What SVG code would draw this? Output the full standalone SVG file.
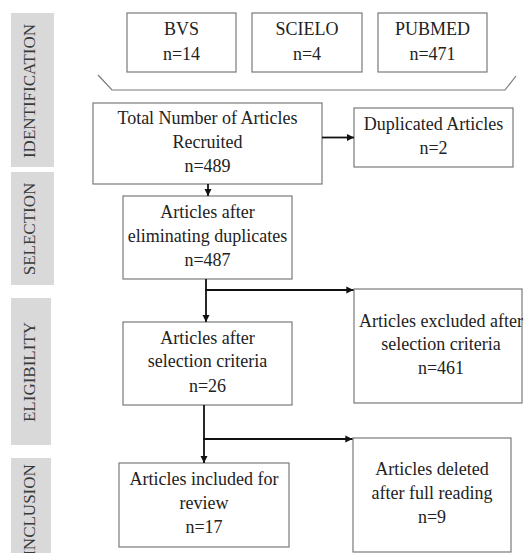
<svg xmlns="http://www.w3.org/2000/svg" width="524" height="553" viewBox="0 0 524 553">
  <style>
    .box { fill: #ffffff; stroke: #7a7a7a; stroke-width: 1.2; }
    .stage { fill: #d9d9d9; }
    .stxt { font-family: 'Liberation Serif', serif; font-size: 17px; fill: #3a3a3a; text-anchor: middle; }
    .t { font-family: 'Liberation Serif', serif; font-size: 18px; fill: #222222; text-anchor: middle; }
    .conn { stroke: #111111; stroke-width: 1.8; fill: none; }
    .brace { stroke: #7a7a7a; stroke-width: 1.2; fill: none; }
  </style>
  <defs>
    <marker id="arr" viewBox="0 0 10 10" refX="10" refY="5" markerWidth="4" markerHeight="4" orient="auto" markerUnits="strokeWidth">
      <path d="M0,0 L10,5 L0,10 Z" fill="#111111"/>
    </marker>
  </defs>

  <g id="stages">
    <g id="stage-identification">
      <rect class="stage" x="11" y="13" width="43" height="154"/>
      <text class="stxt" style="font-family: 'Liberation Serif', serif" transform="translate(35,91) rotate(-90)">IDENTIFICATION</text>
    </g>
    <g id="stage-selection">
      <rect class="stage" x="11" y="172" width="43" height="113"/>
      <text class="stxt" style="font-family: 'Liberation Serif', serif" transform="translate(35,229) rotate(-90)">SELECTION</text>
    </g>
    <g id="stage-eligibility">
      <rect class="stage" x="11" y="298" width="40" height="147"/>
      <text class="stxt" style="font-family: 'Liberation Serif', serif" transform="translate(35,372) rotate(-90)">ELIGIBILITY</text>
    </g>
    <g id="stage-inclusion">
      <rect class="stage" x="11" y="458" width="40" height="100"/>
      <text class="stxt" style="font-family: 'Liberation Serif', serif" transform="translate(35,510) rotate(-90)">INCLUSION</text>
    </g>
  </g>

  <g id="bvs">
    <rect class="box" x="127" y="13" width="109" height="59"/>
    <text class="t" style="font-family: 'Liberation Serif', serif" x="181.5" y="34.5">BVS</text>
    <text class="t" style="font-family: 'Liberation Serif', serif" x="181.5" y="59.5">n=14</text>
  </g>
  <g id="scielo">
    <rect class="box" x="252" y="13" width="110" height="59"/>
    <text class="t" style="font-family: 'Liberation Serif', serif" x="307" y="34.5">SCIELO</text>
    <text class="t" style="font-family: 'Liberation Serif', serif" x="307" y="59.5">n=4</text>
  </g>
  <g id="pubmed">
    <rect class="box" x="378" y="13" width="109" height="59"/>
    <text class="t" style="font-family: 'Liberation Serif', serif" x="432.5" y="34.5">PUBMED</text>
    <text class="t" style="font-family: 'Liberation Serif', serif" x="432.5" y="59.5">n=471</text>
  </g>

  <g id="brace">
    <path class="brace" d="M98,75 L112,90 L505,90 L516,76"/>
  </g>

  <g id="total">
    <rect class="box" x="93" y="103" width="229" height="81"/>
    <text class="t" style="font-family: 'Liberation Serif', serif" x="207.5" y="123.5">Total Number of Articles</text>
    <text class="t" style="font-family: 'Liberation Serif', serif" x="207.5" y="148">Recruited</text>
    <text class="t" style="font-family: 'Liberation Serif', serif" x="207.5" y="172">n=489</text>
  </g>
  <g id="duplicated">
    <rect class="box" x="354" y="108" width="159" height="59"/>
    <text class="t" style="font-family: 'Liberation Serif', serif" x="433.5" y="130">Duplicated Articles</text>
    <text class="t" style="font-family: 'Liberation Serif', serif" x="433.5" y="154">n=2</text>
  </g>
  <g id="after-duplicates">
    <rect class="box" x="123" y="196" width="169" height="83"/>
    <text class="t" style="font-family: 'Liberation Serif', serif" x="207.5" y="218">Articles after</text>
    <text class="t" style="font-family: 'Liberation Serif', serif" x="207.5" y="242">eliminating duplicates</text>
    <text class="t" style="font-family: 'Liberation Serif', serif" x="207.5" y="266">n=487</text>
  </g>
  <g id="excluded">
    <rect class="box" x="354" y="289" width="168" height="114"/>
    <text class="t" style="font-family: 'Liberation Serif', serif" x="441" y="327">Articles excluded after</text>
    <text class="t" style="font-family: 'Liberation Serif', serif" x="441" y="350">selection criteria</text>
    <text class="t" style="font-family: 'Liberation Serif', serif" x="441" y="373.5">n=461</text>
  </g>
  <g id="after-selection">
    <rect class="box" x="123" y="322" width="169" height="83"/>
    <text class="t" style="font-family: 'Liberation Serif', serif" x="207.5" y="343.5">Articles after</text>
    <text class="t" style="font-family: 'Liberation Serif', serif" x="207.5" y="367">selection criteria</text>
    <text class="t" style="font-family: 'Liberation Serif', serif" x="207.5" y="391.5">n=26</text>
  </g>
  <g id="deleted">
    <rect class="box" x="353" y="438" width="158" height="114"/>
    <text class="t" style="font-family: 'Liberation Serif', serif" x="432" y="475">Articles deleted</text>
    <text class="t" style="font-family: 'Liberation Serif', serif" x="432" y="498.5">after full reading</text>
    <text class="t" style="font-family: 'Liberation Serif', serif" x="432" y="522.5">n=9</text>
  </g>
  <g id="included">
    <rect class="box" x="119" y="463" width="170" height="84"/>
    <text class="t" style="font-family: 'Liberation Serif', serif" x="204" y="485">Articles included for</text>
    <text class="t" style="font-family: 'Liberation Serif', serif" x="204" y="509">review</text>
    <text class="t" style="font-family: 'Liberation Serif', serif" x="204" y="533">n=17</text>
  </g>

  <g id="connectors">
    <line class="conn" x1="322" y1="137.5" x2="354" y2="137.5" marker-end="url(#arr)"/>
    <line class="conn" x1="208" y1="184" x2="208" y2="196" marker-end="url(#arr)"/>
    <line class="conn" x1="206" y1="279" x2="206" y2="322" marker-end="url(#arr)"/>
    <line class="conn" x1="205.1" y1="290" x2="353.5" y2="290" marker-end="url(#arr)"/>
    <line class="conn" x1="204" y1="405" x2="204" y2="463" marker-end="url(#arr)"/>
    <line class="conn" x1="203.1" y1="439" x2="352.5" y2="439" marker-end="url(#arr)"/>
  </g>
</svg>
